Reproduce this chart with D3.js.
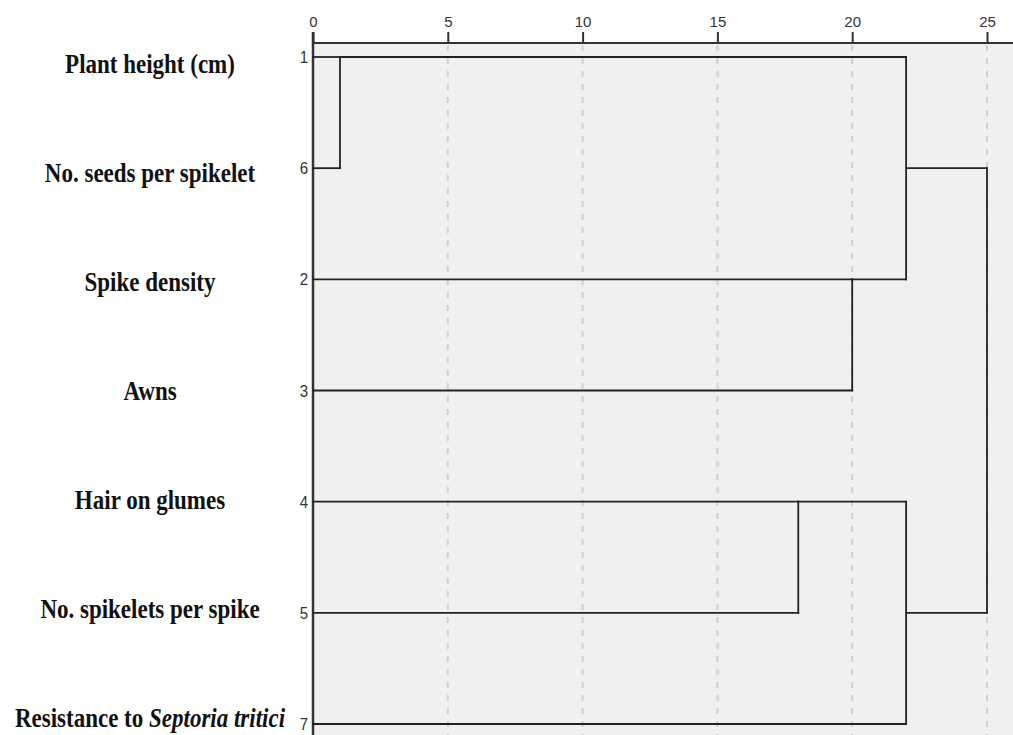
<!DOCTYPE html>
<html><head><meta charset="utf-8">
<script src="https://cdn.jsdelivr.net/npm/d3@7"></script>
<style>body{margin:0;background:#fff;}svg{display:block;}</style>
</head><body>
<svg id="c" width="1013" height="735"></svg>
<script>
// Leaf order (top to bottom) with their case numbers
const labels = ["Plant height (cm)", "No. seeds per spikelet", "Spike density", "Awns", "Hair on glumes", "No. spikelets per spike", "Resistance to |Septoria tritici|"];
const caseNumbers = [1, 6, 2, 3, 4, 5, 7];
const xTicks = [0, 5, 10, 15, 20, 25];
// Merges: [childA, childB, distance] ; children are leaves "L#" or clusters "c#"
const merges = [
  ["L0", "L1", 1],    // c0
  ["L2", "L3", 20],   // c1
  ["L4", "L5", 18],   // c2
  ["c0", "c1", 22],   // c3
  ["c2", "L6", 22],   // c4
  ["c3", "c4", 25]    // c5
];

const svg = d3.select("#c");
const W = 1013, H = 735;
const mLeft = 313, mTop = 43;
const x = d3.scaleLinear().domain([0, 25]).range([mLeft, 987]);
const y = d3.scaleLinear().domain([0, 6]).range([57, 724]);
const yLab = d3.scaleLinear().domain([0, 6]).range([64, 718]);

// background
svg.append("rect").attr("x", mLeft).attr("y", mTop).attr("width", W - mLeft).attr("height", H - mTop).attr("fill", "#f0f0f0");

// gridlines
svg.append("g").selectAll("line").data(xTicks.filter(d => d > 0)).join("line")
  .attr("x1", d => x(d)).attr("x2", d => x(d)).attr("y1", mTop + 2).attr("y2", H)
  .attr("stroke", "#d0d0d0").attr("stroke-width", 2).attr("stroke-dasharray", "6,7");

// top axis
const axis = d3.axisTop(x).tickValues(xTicks).tickSize(11).tickSizeOuter(0).tickPadding(5);
const ag = svg.append("g").attr("transform", `translate(0,${mTop})`).call(axis);
ag.attr("font-size", null);
ag.select(".domain").attr("stroke", "#333").attr("stroke-width", 2).attr("d", `M${mLeft},0H${W}`);
ag.selectAll(".tick line").attr("stroke", "#333").attr("stroke-width", 2);
ag.selectAll(".tick text").attr("font-family", "Arial, 'Liberation Sans', sans-serif").attr("font-size", 15).attr("fill", "#333");

// left border
svg.append("line").attr("x1", mLeft).attr("x2", mLeft).attr("y1", 32).attr("y2", H).attr("stroke", "#333").attr("stroke-width", 2.5);

// dendrogram (SPSS-style row placement)
const nodes = {};
labels.forEach((l, i) => nodes["L" + i] = {row: i, d: 0});
const segs = [];
merges.forEach((m, i) => {
  const a = nodes[m[0]], b = nodes[m[1]], d = m[2];
  segs.push([a.d, a.row, d, a.row]);
  segs.push([b.d, b.row, d, b.row]);
  segs.push([d, a.row, d, b.row]);
  nodes["c" + i] = {row: Math.floor((a.row + b.row) / 2), d: d};
});
svg.append("g").selectAll("line").data(segs).join("line")
  .attr("x1", s => x(s[0])).attr("y1", s => y(s[1]))
  .attr("x2", s => x(s[2])).attr("y2", s => y(s[3]))
  .attr("stroke", "#222").attr("stroke-width", 1.8).attr("stroke-linecap", "square");

// row labels
const lg = svg.append("g");
labels.forEach((l, i) => {
  const t = lg.append("text").attr("transform", `translate(150,${yLab(i) + 9}) scale(1,1.17)`)
    .attr("text-anchor", "middle").attr("font-family", "'Liberation Serif', 'Times New Roman', serif")
    .attr("font-weight", "bold").attr("font-size", 23).attr("fill", "#111");
  l.split("|").forEach((p, k) => {
    if (p.length) t.append("tspan").attr("font-style", k % 2 ? "italic" : "normal").text(p);
  });
});
svg.append("g").selectAll("text").data(caseNumbers).join("text")
  .attr("transform", (d, i) => `translate(308,${y(i) + 6}) scale(1,1.15)`).attr("text-anchor", "end")
  .attr("font-family", "Arial, 'Liberation Sans', sans-serif").attr("font-size", 15).attr("fill", "#333")
  .text(d => d);
</script>
</body></html>
